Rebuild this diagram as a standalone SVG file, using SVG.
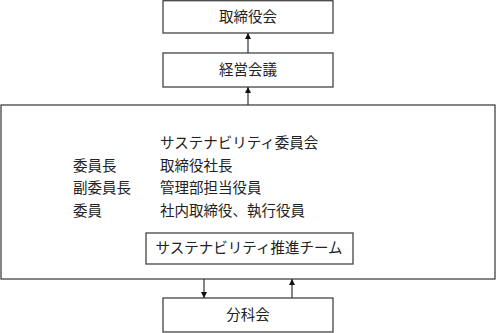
<svg xmlns="http://www.w3.org/2000/svg" width="496" height="333" viewBox="0 0 496 333">
<style>
.box{fill:#fff;stroke:#444;stroke-width:1.3}
.t{font-family:"Liberation Serif","Noto Sans CJK JP",serif;font-size:14.5px;fill:#222}
.c{text-anchor:middle}
.ln{stroke:#333;stroke-width:1.2;fill:none}
</style>
<defs>
<marker id="ah" viewBox="0 0 10 10" refX="10" refY="5" markerWidth="6" markerHeight="6" orient="auto" markerUnits="userSpaceOnUse">
<path d="M0,0 L10,5 L0,10 z" fill="#111"/>
</marker>
</defs>
<g id="committee">
<rect class="box" x="1" y="105" width="494" height="174"/>
<text class="t" x="160" y="148">サステナビリティ委員会</text>
<text class="t" x="73" y="171">委員長</text>
<text class="t" x="160" y="171">取締役社長</text>
<text class="t" x="73" y="193">副委員長</text>
<text class="t" x="160" y="193">管理部担当役員</text>
<text class="t" x="73" y="216">委員</text>
<text class="t" x="160" y="216">社内取締役、執行役員</text>
</g>
<g id="board">
<rect class="box" x="163" y="0.7" width="170" height="32.3"/>
<text class="t c" x="248" y="22">取締役会</text>
</g>
<g id="mgmt">
<rect class="box" x="163" y="53" width="170" height="34"/>
<text class="t c" x="248" y="75">経営会議</text>
</g>
<g id="team">
<rect class="box" x="146" y="233" width="207" height="31"/>
<text class="t c" x="249" y="253">サステナビリティ推進チーム</text>
</g>
<g id="subcommittee">
<rect class="box" x="163" y="298" width="170" height="34"/>
<text class="t c" x="248" y="320">分科会</text>
</g>
<g id="connectors">
<line class="ln" x1="248" y1="53" x2="248" y2="33" marker-end="url(#ah)"/>
<line class="ln" x1="248" y1="105" x2="248" y2="87" marker-end="url(#ah)"/>
<line class="ln" x1="204" y1="279" x2="204" y2="298" marker-end="url(#ah)"/>
<line class="ln" x1="292" y1="298" x2="292" y2="279" marker-end="url(#ah)"/>
</g>
</svg>
